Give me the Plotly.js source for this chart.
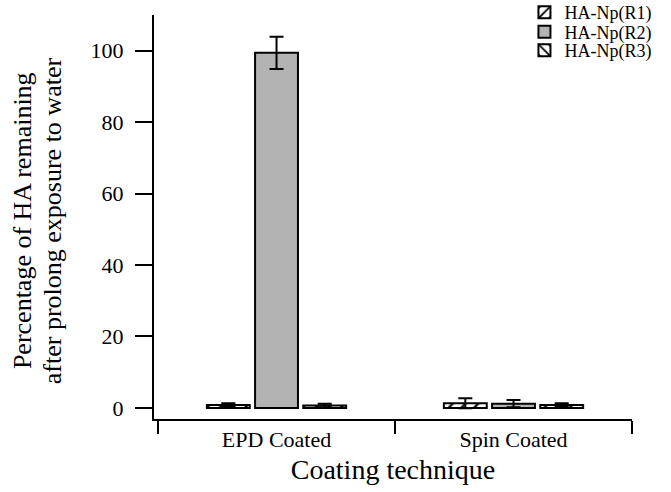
<!DOCTYPE html>
<html>
<head>
<meta charset="utf-8">
<script src="https://cdn.plot.ly/plotly-3.0.1.min.js"></script>
<style>
html,body{margin:0;padding:0;background:#fff;}
#chart{width:671px;height:492px;}
</style>
</head>
<body>
<div id="chart"></div>
<script>
var categories = ['EPD Coated', 'Spin Coated'];
var seriesNames = ['HA-Np(R1)', 'HA-Np(R2)', 'HA-Np(R3)'];
var r1Values = [0.8, 1.3];
var r1Errors = [0.5, 1.4];
var r2Values = [99.4, 1.2];
var r2Errors = [4.5, 1.0];
var r3Values = [0.7, 0.8];
var r3Errors = [0.5, 0.5];
var yTickValues = [0, 20, 40, 60, 80, 100];
var yTitleLines = ['Percentage of HA remaining', 'after prolong exposure to water'];
var xTitle = 'Coating technique';

var FONT = 'Liberation Serif';

function makeBar(name, vals, errs, fill, pattern, legendId) {
  var marker = {color: fill, line: {color: '#000', width: 2}};
  if (pattern) {
    marker.pattern = {shape: pattern, size: 9, solidity: 0.25, fgcolor: '#000', bgcolor: '#fff', fillmode: 'replace'};
  }
  return {
    type: 'bar', name: name, x: categories, y: vals,
    marker: marker,
    error_y: {type: 'data', array: errs, visible: true, color: '#000', thickness: 2, width: 7},
    legend: legendId,
    hoverinfo: 'none'
  };
}

var data = [
  makeBar(seriesNames[0], r1Values, r1Errors, '#fff', '/', 'legend'),
  makeBar(seriesNames[1], r2Values, r2Errors, '#b3b3b3', '', 'legend2'),
  makeBar(seriesNames[2], r3Values, r3Errors, '#fff', '\\', 'legend3')
];

var legendBase = {
  xanchor: 'left', yanchor: 'middle', x: 0.775,
  font: {family: FONT, size: 18, color: '#000'},
  bgcolor: 'rgba(0,0,0,0)', borderwidth: 0
};
function legendAt(y) { var o = JSON.parse(JSON.stringify(legendBase)); o.y = y; return o; }

var layout = {
  width: 671, height: 492,
  margin: {l: 154, r: 39, t: 15, b: 73, pad: 0, autoexpand: false},
  paper_bgcolor: '#fff', plot_bgcolor: '#fff',
  font: {family: FONT, color: '#000'},
  barmode: 'group', bargap: 0.39, bargroupgap: 0.11,
  showlegend: true,
  legend: legendAt(1.006),
  legend2: legendAt(0.958),
  legend3: legendAt(0.912),
  xaxis: {
    type: 'category', range: [-0.517, 1.5],
    showline: true, linecolor: '#000', linewidth: 2,
    ticks: 'outside', tickson: 'boundaries', ticklen: 13, tickwidth: 2, tickcolor: '#000',
    tickfont: {family: FONT, size: 22, color: '#000'},
    showgrid: false, zeroline: false,
    title: {text: xTitle, font: {family: FONT, size: 28, color: '#000'}, standoff: 8}
  },
  yaxis: {
    range: [-3.1, 110], tickvals: yTickValues,
    showline: true, linecolor: '#000', linewidth: 2,
    ticks: 'outside', ticklen: 17, tickwidth: 2, tickcolor: '#000',
    ticklabelstandoff: 7,
    tickfont: {family: FONT, size: 22, color: '#000'},
    showgrid: false, zeroline: false
  },
  annotations: [
    {text: yTitleLines[0], xref: 'paper', yref: 'paper', x: -0.276, y: 0.49, xanchor: 'center', yanchor: 'middle', textangle: -90, showarrow: false, font: {family: FONT, size: 26, color: '#000'}},
    {text: yTitleLines[1], xref: 'paper', yref: 'paper', x: -0.213, y: 0.49, xanchor: 'center', yanchor: 'middle', textangle: -90, showarrow: false, font: {family: FONT, size: 26, color: '#000'}}
  ]
};

Plotly.newPlot('chart', data, layout, {displayModeBar: false, staticPlot: true});
</script>
</body>
</html>
